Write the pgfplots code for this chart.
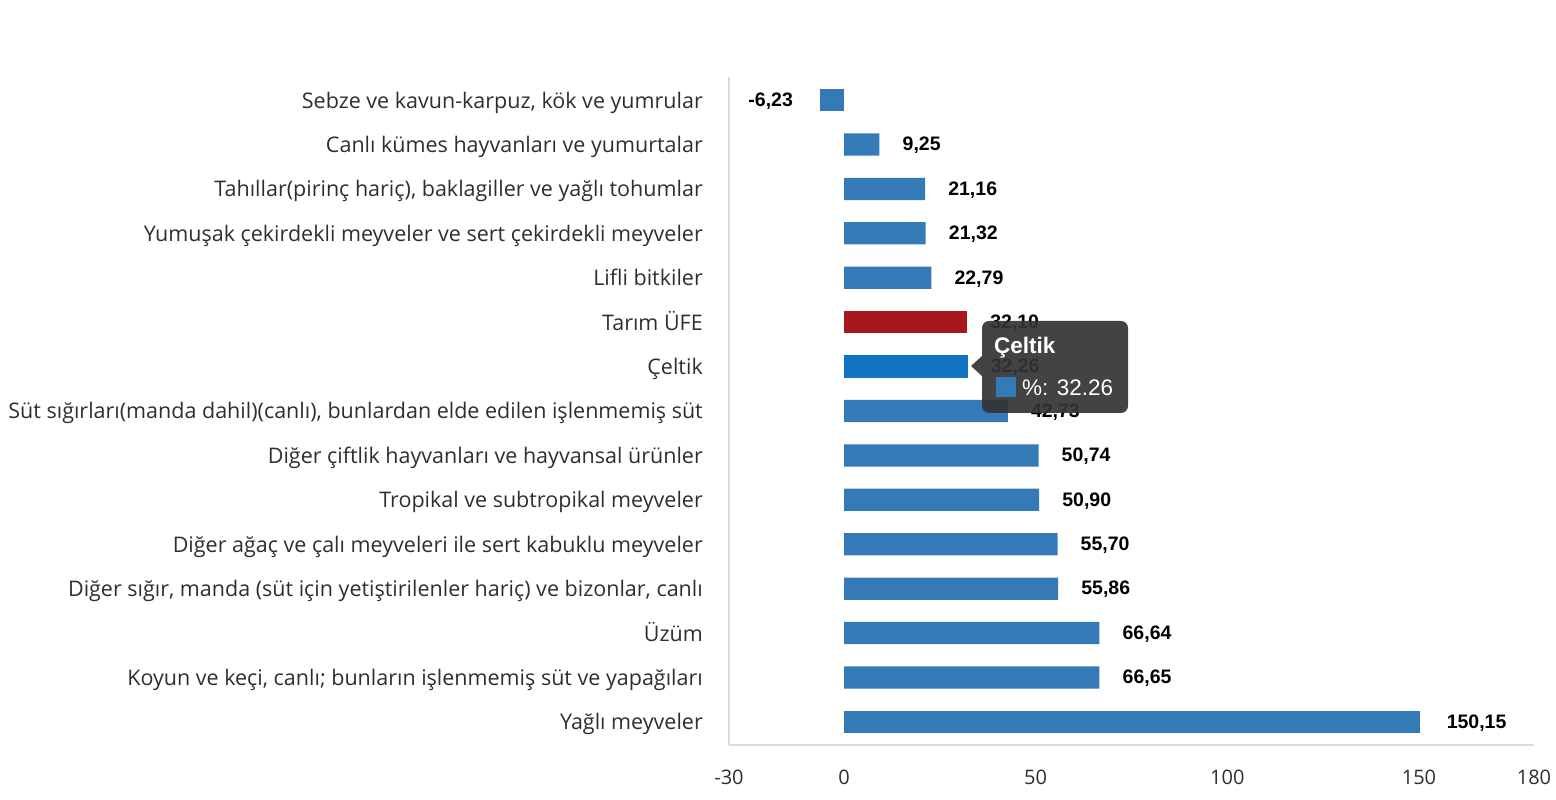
\documentclass[border=0pt]{standalone}
\usepackage{pgfplots}
\pgfplotsset{compat=1.18}
\usepackage{fontspec}
\setmainfont{Open Sans}
\newfontfamily\valfont{Liberation Sans}
\definecolor{barblue}{HTML}{337AB7}
\definecolor{barred}{HTML}{A8161E}
\definecolor{barhl}{HTML}{1174C3}
\definecolor{axgray}{HTML}{DADADA}
\definecolor{txtgray}{HTML}{2E2E2E}
\definecolor{tipgray}{HTML}{333333}
\begin{document}
\begin{tikzpicture}[x=1pt,y=1pt]
\path[use as bounding box] (0,0) rectangle (1556,800);
\begin{axis}[
  at={(729pt,55pt)}, anchor=south west,
  scale only axis, width=805pt, height=668pt,
  xmin=-30, xmax=180, ymin=-0.52, ymax=14.52,
  axis x line=bottom, axis y line=left,
  axis line style={axgray, line width=1.6pt, -},
  xtick={-30,0,50,100,150,180},
  ytick={0,...,14},
  yticklabels={Yağlı meyveler,
    {Koyun ve keçi, canlı; bunların işlenmemiş süt ve yapağıları},
    Üzüm,
    {Diğer sığır, manda (süt için yetiştirilenler hariç) ve bizonlar, canlı},
    Diğer ağaç ve çalı meyveleri ile sert kabuklu meyveler,
    Tropikal ve subtropikal meyveler,
    Diğer çiftlik hayvanları ve hayvansal ürünler,
    {Süt sığırları(manda dahil)(canlı), bunlardan elde edilen işlenmemiş süt},
    Çeltik,
    Tarım ÜFE,
    Lifli bitkiler,
    Yumuşak çekirdekli meyveler ve sert çekirdekli meyveler,
    {Tahıllar(pirinç hariç), baklagiller ve yağlı tohumlar},
    Canlı kümes hayvanları ve yumurtalar,
    {Sebze ve kavun-karpuz, kök ve yumrular}},
  major tick length=0pt,
  tick style={draw=none},
  yticklabel style={font=\fontsize{21.5}{25}\selectfont, text=txtgray, inner sep=0pt, anchor=east, xshift=-26pt, yshift=-1.5pt, text height=13pt, text depth=0pt},
  xticklabel style={font=\fontsize{20}{24}\selectfont, text=txtgray, inner sep=0pt, anchor=north, yshift=-25pt},
  /pgf/number format/assume math mode=true,
  xbar, bar width=0.5, bar shift=0pt,
  nodes near coords,
  nodes near coords style={font=\valfont\bfseries\fontsize{19.5}{22}\selectfont, text=black, inner sep=0pt, yshift=-1pt,
    /pgf/number format/fixed, /pgf/number format/fixed zerofill, /pgf/number format/precision=2, /pgf/number format/use comma},
  clip=false,
]
\addplot[fill=barblue, draw=none, nodes near coords style={anchor=west, xshift=23pt}] coordinates {
(66.65,1) (66.64,2) (55.86,3) (55.70,4) (50.90,5) (50.74,6) (42.73,7)
(22.79,10) (21.32,11) (21.16,12) (9.25,13)};
\addplot[fill=barblue, draw=none, nodes near coords style={anchor=west, xshift=27pt}] coordinates {(150.15,0)};
\addplot[fill=barblue, draw=none, nodes near coords style={anchor=east, xshift=-27pt}] coordinates {(-6.23,14)};
\addplot[fill=barred, draw=none, nodes near coords style={anchor=west, xshift=23pt}] coordinates {(32.10,9)};
\addplot[fill=barhl, draw=none, nodes near coords style={anchor=west, xshift=23pt}] coordinates {(32.26,8)};
\end{axis}
% tooltip
\fill[tipgray, opacity=0.92, rounded corners=7pt] (982,387) rectangle (1128,479);
\fill[tipgray, opacity=0.92] (982,424) -- (971,434) -- (982,444) -- cycle;
\node[anchor=base west, inner sep=0pt, text=white, font=\valfont\bfseries\fontsize{22.5}{26}\selectfont] at (994,446) {Çeltik};
\fill[barblue] (996,403) rectangle (1016,423);
\node[anchor=base west, inner sep=0pt, text=white, font=\valfont\fontsize{22.5}{26}\selectfont] at (1022,404) {\%: 32.26};
\end{tikzpicture}
\end{document}
